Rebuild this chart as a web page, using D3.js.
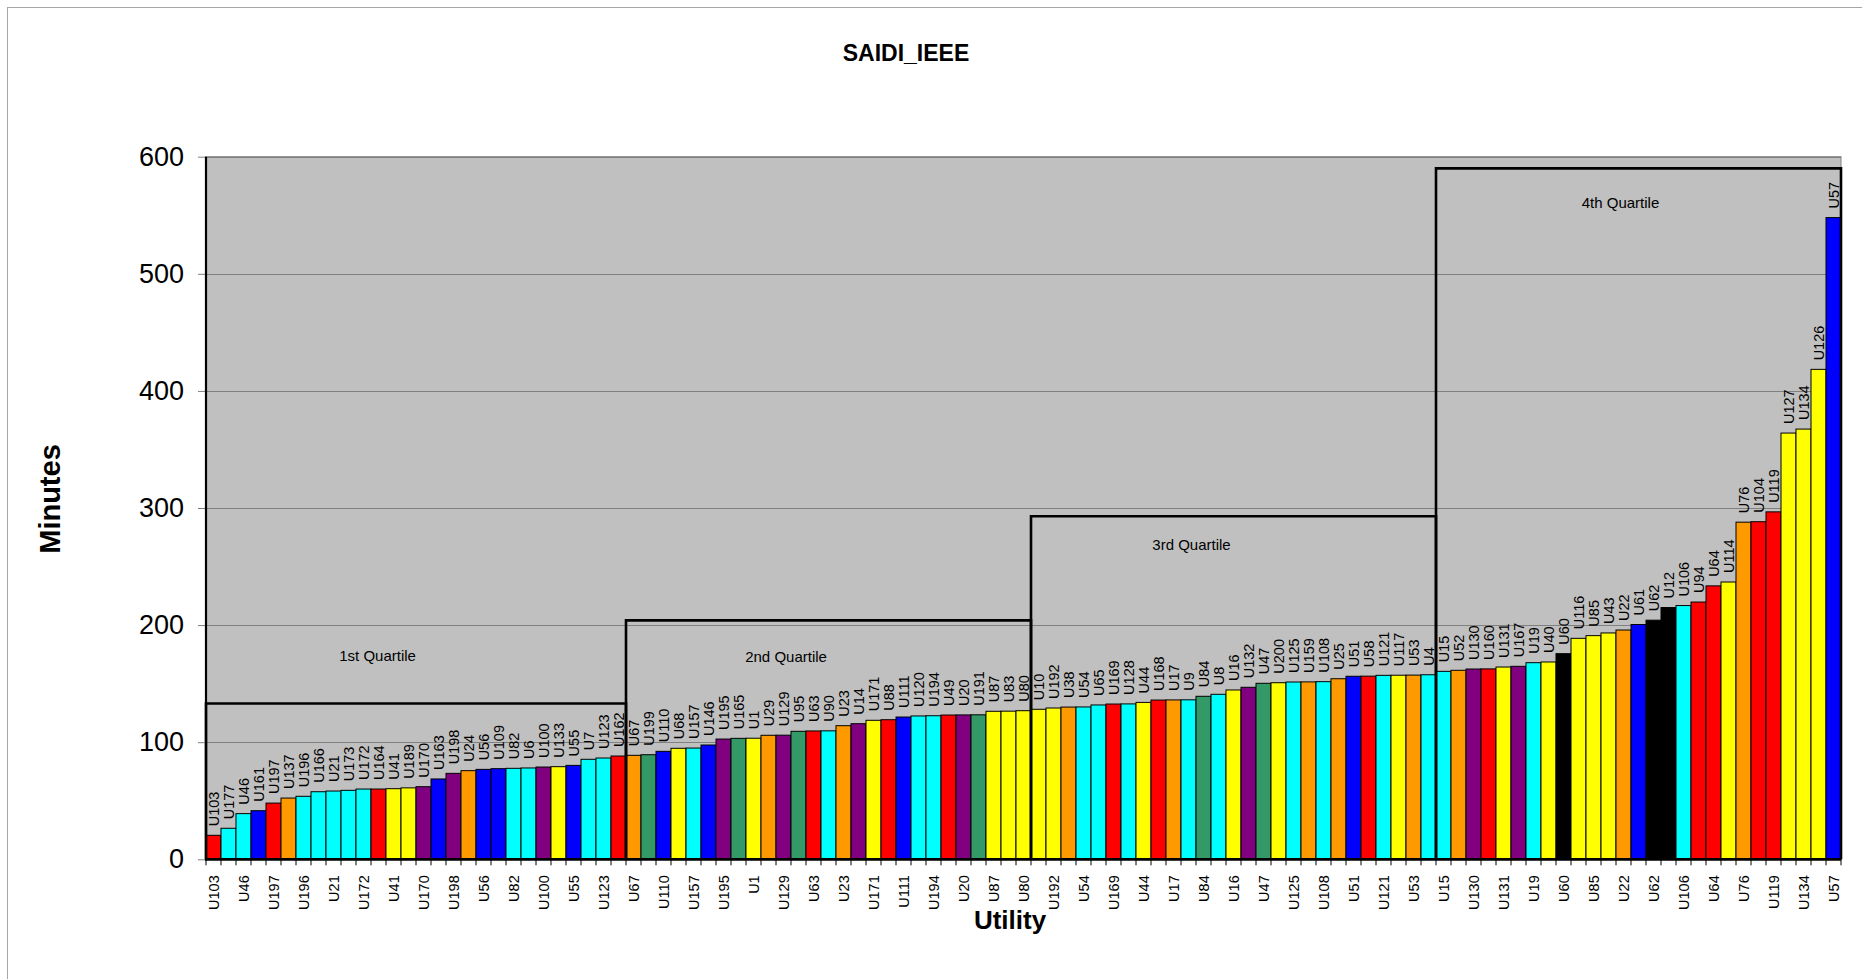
<!DOCTYPE html>
<html>
<head>
<meta charset="utf-8">
<title>SAIDI_IEEE</title>
<script src="https://cdn.jsdelivr.net/npm/d3@7"></script>
<style>
  html, body { margin: 0; padding: 0; background: #ffffff; }
  svg { display: block; font-family: "Liberation Sans", Arial, sans-serif; }
</style>
</head>
<body>
<svg id="chart" width="1862" height="979"></svg>
<script>
// Utilities, sorted by SAIDI (minutes)
const utilities = [
  "U103","U177","U46","U161","U197","U137","U196","U166","U21","U173","U172","U164","U41","U189",
  "U170","U163","U198","U24","U56","U109","U82","U6","U100","U133","U55","U7","U123","U162",
  "U67","U199","U110","U68","U157","U146","U195","U165","U1","U29","U129","U95","U63","U90",
  "U23","U14","U171","U88","U111","U120","U194","U49","U20","U191","U87","U83","U80",
  "U10","U192","U38","U54","U65","U169","U128","U44","U168","U17","U9","U84","U8","U16",
  "U132","U47","U200","U125","U159","U108","U25","U51","U58","U121","U117","U53","U4",
  "U15","U52","U130","U160","U131","U167","U19","U40","U60","U116","U85","U43","U22",
  "U61","U62","U12","U106","U94","U64","U114","U76","U104","U119","U127","U134","U126","U57"
];

const saidiMinutes = [
  20.5, 26.5, 39, 41.5, 48, 52.3, 53.8, 57.7, 58.3, 58.9, 60, 60, 60.3, 61,
  62, 68.6, 73.4, 75.7, 76.8, 77.4, 77.7, 78, 78.8, 79.1, 80.2, 85.4, 86.5, 88.2,
  88.8, 89.3, 92.2, 94.8, 95, 97.6, 102.7, 103.3, 103.4, 105.9, 106, 109.3, 109.6, 109.7,
  114.1, 115.8, 118.7, 119.2, 121.5, 122.4, 122.6, 123.2, 123.3, 123.4, 126.4, 126.5, 126.9,
  128.1, 129.2, 130, 130.1, 131.8, 132.6, 132.7, 134, 136, 136.1, 136.2, 139.2, 140.9, 144.6,
  146.9, 150.3, 150.8, 151.4, 151.5, 151.7, 154.2, 156.3, 156.4, 157.1, 157.2, 157.3, 157.6,
  160.5, 161.4, 162.5, 162.6, 164.2, 164.8, 167.9, 168.5, 175.6, 188.7, 191, 193.3, 195.8,
  200.5, 204.2, 215, 216.7, 219.7, 233.5, 236.8, 287.9, 288.3, 296.7, 364, 367.4, 418.4, 548
];

// Utility class of each bar (drives the fill colour)
const utilityClass = [
  1, 2, 2, 3, 1, 4, 2, 2, 2, 2, 2, 1, 5, 5,
  6, 3, 6, 4, 3, 3, 2, 2, 6, 5, 3, 2, 2, 1,
  4, 7, 3, 5, 2, 3, 6, 7, 5, 4, 6, 7, 1, 2,
  4, 6, 5, 1, 3, 2, 2, 1, 6, 7, 5, 5, 5,
  5, 5, 4, 2, 2, 1, 2, 5, 1, 4, 2, 7, 2, 5,
  6, 7, 5, 2, 4, 2, 4, 3, 1, 2, 5, 4, 2,
  2, 4, 6, 1, 5, 6, 2, 5, 8, 5, 5, 5, 4,
  3, 8, 8, 2, 1, 1, 5, 4, 1, 1, 5, 5, 5, 3
];

const classKeys   = [1, 2, 3, 4, 5, 6, 7, 8];
const classColors = ["#ff0000", "#00ffff", "#0000ff", "#ff9900", "#ffff00", "#800080", "#339966", "#000000"];

// Quartile groupings (first / last bar index) and box heights in minutes
const quartileNames = ["1st Quartile", "2nd Quartile", "3rd Quartile", "4th Quartile"];
const quartileFirst = [0, 28, 55, 82];
const quartileLast  = [27, 54, 81, 108];
const quartileTop   = [133, 204, 293, 590];

const yTicks = [0, 100, 200, 300, 400, 500, 600];

const chartTitle = "SAIDI_IEEE";
const yTitle = "Minutes";
const xTitle = "Utility";

// ---------- layout ----------
const W = 1862, H = 979;
const plot = { left: 206, right: 1841, top: 156.7, bottom: 859.3 };

const svg = d3.select("#chart");

const rows = utilities.map((u, i) => ({ name: u, value: saidiMinutes[i], cls: utilityClass[i], i }));

const x = d3.scaleBand().domain(utilities).range([plot.left, plot.right]).paddingInner(0).paddingOuter(0);
const y = d3.scaleLinear().domain([0, 600]).range([plot.bottom, plot.top]);
const color = d3.scaleOrdinal().domain(classKeys).range(classColors);

// outer chart frame
svg.append("rect")
  .attr("x", 7.5).attr("y", 7.5)
  .attr("width", W + 20).attr("height", H + 20)
  .attr("fill", "none").attr("stroke", "#a6a6a6").attr("stroke-width", 1);

// plot background
svg.append("rect")
  .attr("x", plot.left).attr("y", plot.top)
  .attr("width", plot.right - plot.left).attr("height", plot.bottom - plot.top)
  .attr("fill", "#c0c0c0").attr("stroke", "#808080").attr("stroke-width", 1);

// horizontal gridlines
svg.append("g")
  .selectAll("line")
  .data(yTicks.filter(t => t > 0))
  .join("line")
  .attr("x1", plot.left).attr("x2", plot.right)
  .attr("y1", d => Math.round(y(d)) + 0.5).attr("y2", d => Math.round(y(d)) + 0.5)
  .attr("stroke", "#808080").attr("stroke-width", 1);

// bars
svg.append("g")
  .selectAll("rect")
  .data(rows)
  .join("rect")
  .attr("x", d => x(d.name))
  .attr("y", d => y(d.value))
  .attr("width", x.bandwidth())
  .attr("height", d => y(0) - y(d.value))
  .attr("fill", d => color(d.cls))
  .attr("stroke", "#000000")
  .attr("stroke-width", 1);

// bar labels (utility name above each bar)
svg.append("g")
  .attr("font-size", 14.5)
  .attr("fill", "#000")
  .selectAll("text")
  .data(rows)
  .join("text")
  .attr("transform", d => `translate(${x(d.name) + x.bandwidth() / 2},${y(d.value) - 9}) rotate(-90)`)
  .attr("dy", "0.35em")
  .attr("text-anchor", "start")
  .text(d => d.name);

// quartile boxes
const quartiles = quartileNames.map((n, k) => ({
  name: n, first: quartileFirst[k], last: quartileLast[k], top: quartileTop[k]
}));
svg.append("g")
  .selectAll("path")
  .data(quartiles)
  .join("path")
  .attr("d", q => {
    const x0 = x(utilities[q.first]);
    const x1 = x(utilities[q.last]) + x.bandwidth();
    return `M${x0},${y(0)}V${y(q.top)}H${x1}V${y(0)}`;
  })
  .attr("fill", "none")
  .attr("stroke", "#000")
  .attr("stroke-width", 2.6);

// quartile captions: offset in bars from the box start, height in minutes
const captionOffset = [11.44, 10.67, 10.7, 12.3];
const captionLevel  = [174, 173, 268.4, 560.4];
svg.append("g")
  .attr("font-size", 15)
  .selectAll("text")
  .data(quartiles)
  .join("text")
  .attr("x", (q, k) => x(utilities[q.first]) + captionOffset[k] * x.bandwidth())
  .attr("y", (q, k) => y(captionLevel[k]))
  .attr("dy", "0.35em")
  .attr("text-anchor", "middle")
  .text(q => q.name);

// y axis
const yAxis = svg.append("g")
  .attr("transform", `translate(${plot.left},0)`)
  .call(d3.axisLeft(y).tickValues(yTicks).tickSize(8).tickPadding(14));
yAxis.select(".domain").remove();
yAxis.selectAll(".tick line").attr("stroke", "#808080");
yAxis.selectAll(".tick text")
  .attr("font-size", 27)
  .attr("font-family", "'Liberation Sans', Arial, sans-serif")
  .attr("fill", "#000");
svg.append("line")
  .attr("x1", plot.left).attr("x2", plot.left)
  .attr("y1", plot.top).attr("y2", plot.bottom + 1)
  .attr("stroke", "#000").attr("stroke-width", 2.2);

// x axis: labels on every second utility, tick marks between all categories
const xAxis = svg.append("g")
  .attr("transform", `translate(0,${plot.bottom})`)
  .call(d3.axisBottom(x).tickValues(utilities.filter((u, i) => i % 2 === 0)).tickSize(0));
xAxis.select(".domain").remove();
xAxis.selectAll(".tick text")
  .attr("font-size", 14.5)
  .attr("font-family", "'Liberation Sans', Arial, sans-serif")
  .attr("fill", "#000")
  .attr("transform", "rotate(-90)")
  .attr("x", -16)
  .attr("y", 0)
  .attr("dy", "0.35em")
  .style("text-anchor", "end");

const boundaries = utilities.map(u => x(u)).concat([plot.right]);
svg.append("g")
  .selectAll("line")
  .data(boundaries)
  .join("line")
  .attr("x1", d => d).attr("x2", d => d)
  .attr("y1", plot.bottom).attr("y2", plot.bottom + 6)
  .attr("stroke", "#000").attr("stroke-width", 1);

svg.append("line")
  .attr("x1", plot.left - 1).attr("x2", plot.right)
  .attr("y1", plot.bottom).attr("y2", plot.bottom)
  .attr("stroke", "#000").attr("stroke-width", 2.8);

// titles
svg.append("text")
  .attr("x", 906).attr("y", 53)
  .attr("dy", "0.35em")
  .attr("text-anchor", "middle")
  .attr("font-size", 23)
  .attr("font-weight", "bold")
  .text(chartTitle);

svg.append("text")
  .attr("transform", "translate(50,499) rotate(-90)")
  .attr("dy", "0.35em")
  .attr("text-anchor", "middle")
  .attr("font-size", 29)
  .attr("font-weight", "bold")
  .text(yTitle);

svg.append("text")
  .attr("x", 1010).attr("y", 920)
  .attr("dy", "0.35em")
  .attr("text-anchor", "middle")
  .attr("font-size", 26)
  .attr("font-weight", "bold")
  .text(xTitle);
</script>
</body>
</html>
